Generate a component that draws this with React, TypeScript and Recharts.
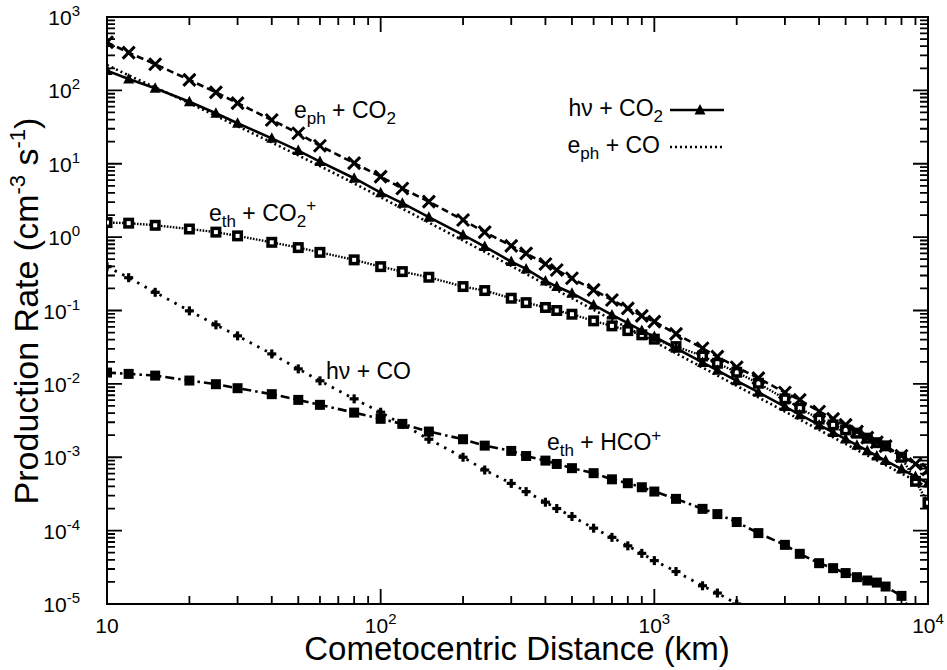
import React from 'react';
import { LineChart, Line, XAxis, YAxis, ReferenceArea, ReferenceLine } from 'recharts';

// ---------- data ----------
const gridX = [10, 12, 15, 20, 25, 30, 40, 50, 60, 80, 100, 120, 150, 200, 240, 300, 340, 400, 440, 500, 600, 700, 800, 900, 1000, 1200, 1500, 1700, 2000, 2400, 3000, 3400, 4000, 4500, 5000, 5500, 6000, 6500, 7000, 8000, 9000, 10000];

// e_ph + CO2 (dashed, x markers)
const ephCO2 = [452, 327, 227, 139, 94, 67, 39.5, 26, 17.6, 10.2, 6.67, 4.6, 3.05, 1.71, 1.17, 0.76, 0.6, 0.43, 0.357, 0.275, 0.191, 0.139, 0.107, 0.0844, 0.0706, 0.048, 0.0306, 0.0235, 0.01687, 0.01197, 0.00762, 0.00605, 0.0042, 0.00334, 0.00276, 0.00224, 0.00185, 0.0016, 0.00142, 0.00105, 0.00081, 0.00068];

// hv + CO2 (solid, triangles)
const hvCO2 = [186, 143, 107, 70, 48.7, 35.6, 22.2, 15.1, 10.7, 6.35, 4.04, 2.9, 1.87, 1.07, 0.743, 0.464, 0.369, 0.253, 0.212, 0.172, 0.119, 0.0871, 0.0671, 0.0532, 0.0441, 0.0306, 0.0196, 0.0153, 0.011, 0.0077, 0.0049, 0.0038, 0.00276, 0.00218, 0.00177, 0.00146, 0.00123, 0.00104, 0.0009, 0.00069, 0.000545, 0.000444];

// e_ph + CO (dotted, no markers)
const ephCOX = [10, 12, 15, 20, 25, 30, 40, 50, 60, 80, 100, 150, 200, 300, 400, 500, 700, 1000, 1500, 2000, 3000, 4000, 5000, 7000, 10000];
const ephCO = [222, 160, 110, 67, 45, 32.5, 19.5, 13, 9.3, 5.4, 3.5, 1.58, 0.9, 0.405, 0.228, 0.147, 0.075, 0.0375, 0.0167, 0.0094, 0.0042, 0.00236, 0.00152, 0.00078, 0.00039];

// e_th + CO2+ (dense dots, hollow squares)
const ethCO2p = [1.58, 1.55, 1.45, 1.29, 1.17, 1.04, 0.85, 0.72, 0.62, 0.49, 0.396, 0.339, 0.284, 0.212, 0.187, 0.147, 0.128, 0.11, 0.1, 0.089, 0.0722, 0.0617, 0.0532, 0.0466, 0.0407, 0.0322, 0.024, 0.0191, 0.0144, 0.0102, 0.00625, 0.00467, 0.00331, 0.00276, 0.00236, 0.00213, 0.00182, 0.00158, 0.00143, 0.001, 0.00047, 0.00024];

// hv + CO (sparse dots, plus markers)
const hvCOX = [10, 12, 15, 20, 25, 30, 40, 50, 60, 80, 100, 120, 150, 200, 240, 300, 340, 400, 440, 500, 600, 700, 800, 900, 1000, 1200, 1500, 1700, 2000];
const hvCO = [0.396, 0.28, 0.177, 0.0989, 0.0637, 0.0451, 0.0256, 0.016, 0.011, 0.00625, 0.00411, 0.0028, 0.00176, 0.001, 0.00067, 0.00044, 0.00034, 0.000244, 0.0002, 0.000156, 0.000108, 0.000081, 0.000062, 0.000049, 0.000039, 0.0000277, 0.0000177, 0.0000141, 0.00001];

// e_th + HCO+ (dash-dot, filled squares)
const ethHCOpX = [10, 12, 15, 20, 25, 30, 40, 50, 60, 80, 100, 120, 150, 200, 240, 300, 340, 400, 440, 500, 600, 700, 800, 900, 1000, 1200, 1500, 1700, 2000, 2400, 3000, 3400, 4000, 4500, 5000, 5500, 6000, 6500, 7000, 8000, 9000];
const ethHCOp = [0.01426, 0.01368, 0.01297, 0.0111, 0.0099, 0.00873, 0.00724, 0.00605, 0.00518, 0.00406, 0.00334, 0.00285, 0.00224, 0.00176, 0.00144, 0.00122, 0.00104, 0.0009, 0.00081, 0.00071, 0.000607, 0.0005, 0.000443, 0.00039, 0.000341, 0.000271, 0.000198, 0.000168, 0.000131, 0.0000925, 0.000064, 0.0000483, 0.000036, 0.0000308, 0.0000264, 0.0000232, 0.0000209, 0.0000196, 0.0000173, 0.0000129, 0.0000064];

// ticks
const X_MAJOR = [10, 100, 1000, 10000];
const X_MAJOR_EXP = ['', '2', '3', '4'];
const Y_MAJOR = [1e-5, 1e-4, 1e-3, 1e-2, 1e-1, 1, 10, 100, 1000];
const Y_MAJOR_EXP = ['-5', '-4', '-3', '-2', '-1', '0', '1', '2', '3'];
const MINOR_MANTISSAS = [2, 3, 4, 5, 6, 7, 8, 9];

// ---------- layout ----------
const CHART_W = 947;
const CHART_H = 670;
const MARGIN = { top: 17, right: 19, bottom: 0, left: 0 };
const MAJOR_LEN = 15;
const MINOR_LEN = 8;
const TW = 1.8;

// ---------- helpers ----------
const toPts = (xs: number[], ys: number[]) => xs.map((x, i) => ({ x, y: ys[i] }));
const buildTicks = (majors: number[]) => {
  const out: number[] = [];
  majors.forEach((m, i) => {
    out.push(m);
    if (i < majors.length - 1) MINOR_MANTISSAS.forEach((k) => out.push(Number((m * k).toPrecision(6))));
  });
  return out;
};
const xTicks = buildTicks(X_MAJOR);
const yTicks = buildTicks(Y_MAJOR);
const majorIndex = (arr: number[], v: number) => arr.findIndex((m) => Math.abs(m - v) / m < 1e-6);

// tick labels (drawn by the axes)
const renderXLabel = (props: any) => {
  const xn = Number(props.x);
  const yn = Number(props.y);
  const idx = majorIndex(X_MAJOR, props.payload.value);
  if (idx < 0) return <g />;
  return (
    <text x={xn} y={yn + 29} textAnchor="middle" fontSize={21} fill="#000">
      10
      {X_MAJOR_EXP[idx] !== '' && (
        <tspan dy={-9} fontSize={15}>
          {X_MAJOR_EXP[idx]}
        </tspan>
      )}
    </text>
  );
};
const renderYLabel = (props: any) => {
  const xn = Number(props.x);
  const yn = Number(props.y);
  const idx = majorIndex(Y_MAJOR, props.payload.value);
  if (idx < 0) return <g />;
  return (
    <text x={xn - 27} y={yn + 8} textAnchor="end" fontSize={21} fill="#000">
      10
      <tspan dy={-9} fontSize={15}>
        {Y_MAJOR_EXP[idx]}
      </tspan>
    </text>
  );
};

// inward tick marks (through ReferenceLine, on all four sides)
const xTickShape = (len: number) => (p: any) => {
  const x = Number(p.x1);
  const y1 = Number(p.y1);
  const y2 = Number(p.y2);
  const yb = Math.max(y1, y2);
  const yt = Math.min(y1, y2);
  return <path d={`M${x},${yb}V${yb - len}M${x},${yt}V${yt + len}`} stroke="#000" strokeWidth={TW} fill="none" />;
};
const yTickShape = (len: number) => (p: any) => {
  const y = Number(p.y1);
  const x1 = Number(p.x1);
  const x2 = Number(p.x2);
  const xl = Math.min(x1, x2);
  const xr = Math.max(x1, x2);
  return <path d={`M${xl},${y}H${xl + len}M${xr},${y}H${xr - len}`} stroke="#000" strokeWidth={TW} fill="none" />;
};

// markers
const XMark = ({ cx, cy }: any) => (
  <g>
    <line x1={cx - 6} y1={cy - 6} x2={cx + 6} y2={cy + 6} stroke="#000" strokeWidth={3} />
    <line x1={cx - 6} y1={cy + 6} x2={cx + 6} y2={cy - 6} stroke="#000" strokeWidth={3} />
  </g>
);
const TriMark = ({ cx, cy }: any) => (
  <polygon points={`${cx},${cy - 6} ${cx - 5.5},${cy + 4.5} ${cx + 5.5},${cy + 4.5}`} fill="#000" />
);
const HollowSq = ({ cx, cy }: any) => (
  <g>
    <rect x={cx - 5.5} y={cy - 5.5} width={11} height={11} fill="#000" />
    <rect x={cx - 2} y={cy - 2} width={4} height={4} fill="#fff" />
  </g>
);
const PlusMark = ({ cx, cy }: any) => (
  <g>
    <line x1={cx - 4.5} y1={cy} x2={cx + 4.5} y2={cy} stroke="#000" strokeWidth={3.2} />
    <line x1={cx} y1={cy - 4.5} x2={cx} y2={cy + 4.5} stroke="#000" strokeWidth={3.2} />
  </g>
);
const FilledSq = ({ cx, cy }: any) => <rect x={cx - 5} y={cy - 5} width={10} height={10} fill="#000" />;

const mk = (C: any) => (p: any) => (p.cx == null || p.cy == null ? <g key={`n${p.index}`} /> : <C key={`m${p.index}`} cx={p.cx} cy={p.cy} />);

const FONT = '"Liberation Sans", Arial, Helvetica, sans-serif';

export default function App() {
  return (
    <div style={{ position: 'absolute', left: 0, top: 0, width: CHART_W, height: CHART_H, background: '#fff', fontFamily: FONT }}>
      <LineChart width={CHART_W} height={CHART_H} margin={MARGIN}>
        <XAxis
          xAxisId="b"
          dataKey="x"
          type="number"
          scale="log"
          domain={[10, 10000]}
          allowDataOverflow
          ticks={xTicks}
          interval={0}
          height={66}
          tickSize={0}
          tickMargin={0}
          tickLine={false}
          axisLine={{ stroke: '#000', strokeWidth: 2 }}
          tick={renderXLabel}
        />
        <YAxis
          yAxisId="l"
          type="number"
          scale="log"
          domain={[1e-5, 1000]}
          allowDataOverflow
          ticks={yTicks}
          interval={0}
          width={107}
          tickSize={0}
          tickMargin={0}
          tickLine={false}
          axisLine={{ stroke: '#000', strokeWidth: 2 }}
          tick={renderYLabel}
        />
        <ReferenceArea xAxisId="b" yAxisId="l" x1={10} x2={10000} y1={1e-5} y2={1000} fill="none" fillOpacity={0} stroke="#000" strokeWidth={2} ifOverflow="visible" />
        {xTicks.map((v) => (
          <ReferenceLine key={`xt${v}`} xAxisId="b" yAxisId="l" x={v} ifOverflow="visible" shape={xTickShape(majorIndex(X_MAJOR, v) >= 0 ? MAJOR_LEN : MINOR_LEN)} />
        ))}
        {yTicks.map((v) => (
          <ReferenceLine key={`yt${v}`} xAxisId="b" yAxisId="l" y={v} ifOverflow="visible" shape={yTickShape(majorIndex(Y_MAJOR, v) >= 0 ? MAJOR_LEN : MINOR_LEN)} />
        ))}

        <Line xAxisId="b" yAxisId="l" data={toPts(ephCOX, ephCO)} dataKey="y" type="linear" stroke="#000" strokeWidth={2.6} strokeDasharray="2 3" dot={false} activeDot={false} isAnimationActive={false} />
        <Line xAxisId="b" yAxisId="l" data={toPts(gridX, ethCO2p)} dataKey="y" type="linear" stroke="#000" strokeWidth={2.4} strokeDasharray="1.6 1.4" dot={mk(HollowSq)} activeDot={false} isAnimationActive={false} />
        <Line xAxisId="b" yAxisId="l" data={toPts(hvCOX, hvCO)} dataKey="y" type="linear" stroke="#000" strokeWidth={2.8} strokeDasharray="2.5 6" dot={mk(PlusMark)} activeDot={false} isAnimationActive={false} />
        <Line xAxisId="b" yAxisId="l" data={toPts(ethHCOpX, ethHCOp)} dataKey="y" type="linear" stroke="#000" strokeWidth={2.6} strokeDasharray="9 4 2.5 4" dot={mk(FilledSq)} activeDot={false} isAnimationActive={false} />
        <Line xAxisId="b" yAxisId="l" data={toPts(gridX, hvCO2)} dataKey="y" type="linear" stroke="#000" strokeWidth={2.6} dot={mk(TriMark)} activeDot={false} isAnimationActive={false} />
        <Line xAxisId="b" yAxisId="l" data={toPts(gridX, ephCO2)} dataKey="y" type="linear" stroke="#000" strokeWidth={2.6} strokeDasharray="7 4" dot={mk(XMark)} activeDot={false} isAnimationActive={false} />

        {/* axis titles */}
        <text x={517} y={660} textAnchor="middle" fontSize={33} fill="#000" fontFamily={FONT}>
          Cometocentric Distance (km)
        </text>
        <text transform="translate(38,311) rotate(-90)" textAnchor="middle" fontSize={34} fill="#000" fontFamily={FONT}>
          Production Rate (cm<tspan dy={-13} fontSize={22}>-3</tspan>
          <tspan dy={13}> s</tspan>
          <tspan dy={-13} fontSize={22}>-1</tspan>
          <tspan dy={13}>)</tspan>
        </text>

        {/* curve annotations */}
        <text x={294} y={118} fontSize={23} fill="#000" fontFamily={FONT}>
          e<tspan dy={6} fontSize={17}>ph</tspan>
          <tspan dy={-6}> + CO</tspan>
          <tspan dy={6} fontSize={17}>2</tspan>
        </text>
        <text x={209} y={221} fontSize={23} fill="#000" fontFamily={FONT}>
          e<tspan dy={6} fontSize={17}>th</tspan>
          <tspan dy={-6}> + CO</tspan>
          <tspan dy={6} fontSize={17}>2</tspan>
          <tspan dy={-16} fontSize={17}>+</tspan>
        </text>
        <text x={326} y={379} fontSize={23} fill="#000" fontFamily={FONT}>
          hν + CO
        </text>
        <text x={547} y={450} fontSize={23} fill="#000" fontFamily={FONT}>
          e<tspan dy={6} fontSize={17}>th</tspan>
          <tspan dy={-6}> + HCO</tspan>
          <tspan dy={-9} fontSize={17}>+</tspan>
        </text>

        {/* legend */}
        <g>
          <text x={663} y={116} textAnchor="end" fontSize={23} fill="#000" fontFamily={FONT}>
            hν +  CO<tspan dy={6} fontSize={17}>2</tspan>
          </text>
          <line x1={670} x2={724} y1={110} y2={110} stroke="#000" strokeWidth={2.6} />
          <TriMark cx={700} cy={110} />
          <text x={660} y={153} textAnchor="end" fontSize={23} fill="#000" fontFamily={FONT}>
            e<tspan dy={6} fontSize={17}>ph</tspan>
            <tspan dy={-6}> + CO</tspan>
          </text>
          <line x1={670} x2={722} y1={147} y2={147} stroke="#000" strokeWidth={2.6} strokeDasharray="2 3" />
        </g>
      </LineChart>
    </div>
  );
}
